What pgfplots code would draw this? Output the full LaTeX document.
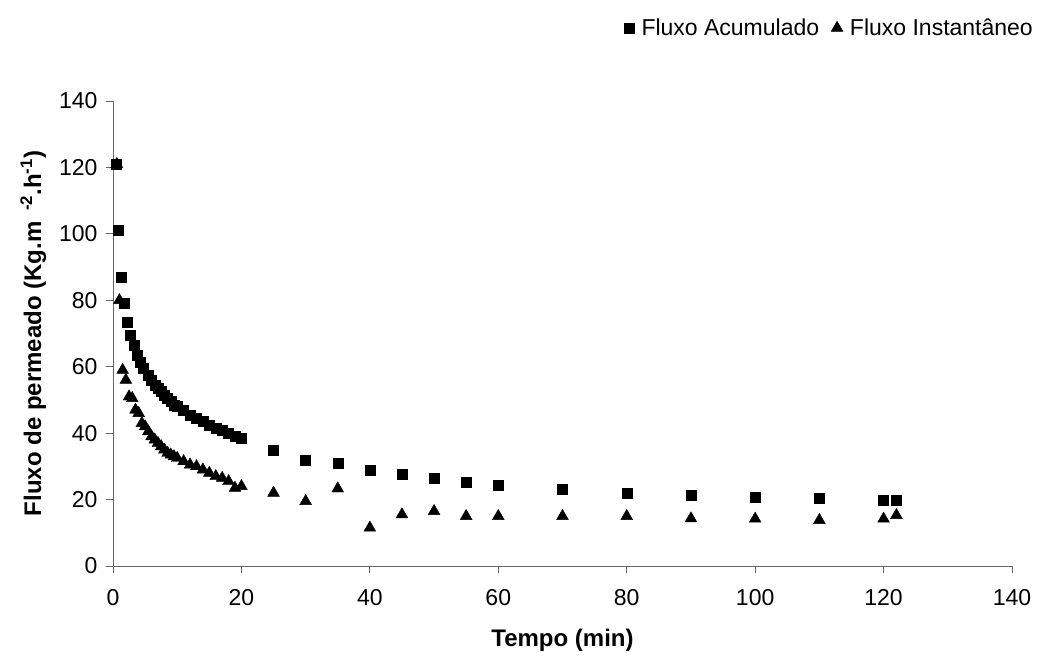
\documentclass[border=0pt]{standalone}
\usepackage{pgfplots}
\pgfplotsset{compat=1.18}
\usepackage{fontspec}
\setmainfont{Liberation Sans}
\begin{document}
\begin{tikzpicture}
\begin{axis}[
  scale only axis,
  width=899pt, height=465pt,
  xmin=0, xmax=140, ymin=0, ymax=140,
  xtick={0,20,...,140}, ytick={0,20,...,140},
  axis lines=left,
  axis line style={-, draw=black!60, line width=0.8pt},
  tick style={draw=black!60, line width=0.8pt},
  tick align=outside,
  major tick length=7pt,
  /pgf/number format/assume math mode=true,
  ticklabel style={font=\fontsize{23}{27}\selectfont},
  xticklabel style={yshift=-13pt},
  yticklabel style={xshift=-5pt},
  xlabel={\textbf{Tempo (min)}},
  ylabel={\textbf{Fluxo de permeado (Kg.m \,\textsuperscript{-2}.h\textsuperscript{-1})}},
  label style={font=\fontsize{24}{28}\selectfont},
  xlabel style={yshift=-16pt},
  ylabel style={yshift=6pt},
  clip=false,
  legend columns=2,
  legend style={draw=none, fill=none, at={(axis description cs:1.0256,1.157)}, anchor=east,
    font=\fontsize{23}{27}\selectfont, column sep=0pt, inner sep=0pt,
    /tikz/every odd column/.style={column sep=5pt},
    /tikz/every even column/.style={column sep=10pt}},
  legend image code/.code={\draw[#1] plot coordinates {(0.15cm,0cm)};},
]
\addplot[only marks, mark=square*, mark size=5pt, black] coordinates {
(0.5,121) (0.75,101) (1.25,87) (1.75,79) (2.25,73.5) (2.75,69.5) (3.25,66.5) (3.75,63.5)
(4.25,61.5) (4.75,59.5) (5.5,57.5) (6,56) (6.5,54.5) (7,53.5) (7.5,52.5) (8,51.5)
(8.5,50.5) (9,49.5) (9.5,48.5) (10,48) (11,47) (12,45.5) (13,44.5) (14,43.5) (15,42.5)
(16,41.5) (17,41) (18,40) (19,39) (20,38.5)
(25,35) (30,32) (35,31) (40,28.8) (45,27.5) (50,26.5) (55,25.3) (60,24.2) (70,23)
(80,22) (90,21.3) (100,20.8) (110,20.3) (120,19.8) (122,19.8)
};
\addlegendentry{Fluxo Acumulado}
\addplot[only marks, mark=triangle*, mark size=6.8pt, black] coordinates {
(0.6,121) (1,80) (1.5,59) (2,56) (2.5,51) (3,50.5) (3.5,47) (4,46) (4.5,43) (5,42)
(5.5,40.5) (6,39) (6.5,38) (7,37) (7.5,36) (8,35) (8.5,34) (9,33.5) (9.5,33) (10,32.5)
(11,31.5) (12,30.5) (13,30) (14,29) (15,28) (16,27) (17,26.5) (18,25.5) (19,23.5) (20,24)
(25,22) (30,19.5) (35,23.3) (40,11.5) (45,15.5) (50,16.5) (55,15) (60,15) (70,15)
(80,15) (90,14.3) (100,14.2) (110,13.8) (120,14.2) (122,15.3)
};
\addlegendentry{Fluxo Instantâneo}
\end{axis}
\useasboundingbox ([xshift=-113pt,yshift=-90pt]current axis.south west) rectangle ([xshift=928pt,yshift=566pt]current axis.south west);
\end{tikzpicture}
\end{document}
